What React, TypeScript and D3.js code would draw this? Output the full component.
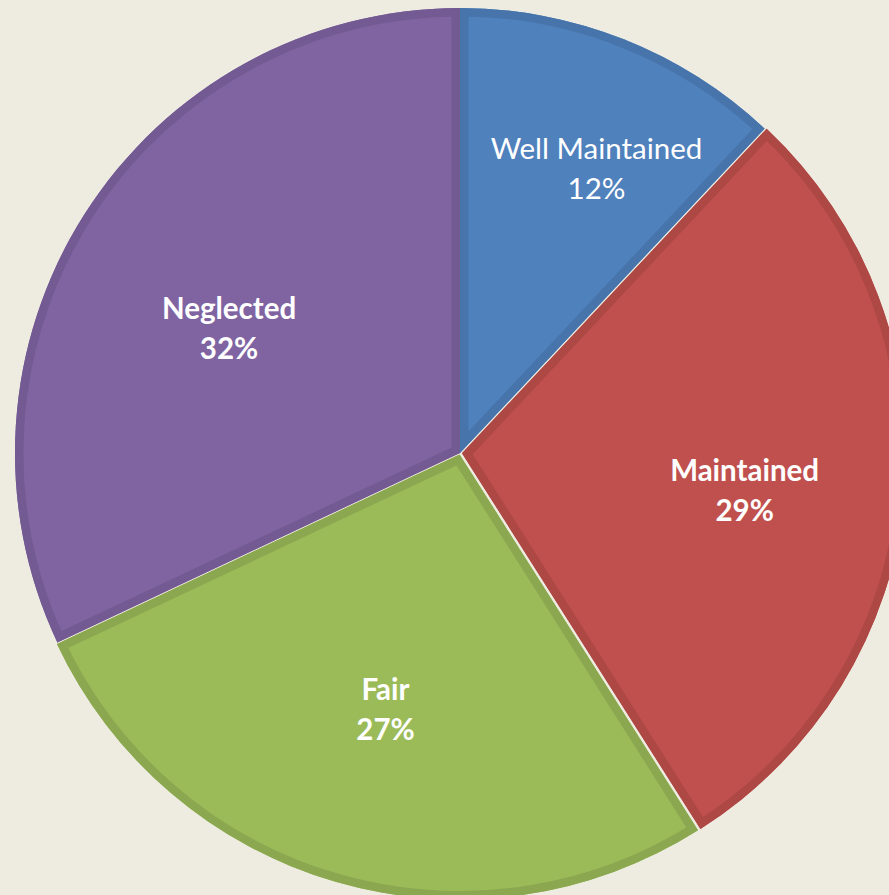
import React from "react";
import * as d3 from "d3";

const categories = ["Well Maintained", "Maintained", "Fair", "Neglected"];
const values = [12, 29, 27, 32];
const colors = ["#4F81BD", "#C0504D", "#9BBB59", "#8064A2"];
const boldLabel = [false, true, true, true];
const labelRadiusFrac = [0.71, 0.645, 0.6, 0.59];
const labelAngleShift = [4, 2, 0, -4];
const explode = [0, 2, 1.5, 0];

const W = 889;
const H = 895;
const cx = 460;
const cy = 453;
const R = 445;

export default function App() {
  const pie = d3.pie<number>().sort(null).value((d) => d);
  const arcs = pie(values);
  const arc = d3.arc<d3.PieArcDatum<number>>().innerRadius(0).outerRadius(R);
  return (
    <svg width={W} height={H} style={{ position: "absolute", left: 0, top: 0, background: "#EEECE1" }}>
      <rect x={0} y={0} width={W} height={H} fill="#EEECE1" />
      <defs>
        {arcs.map((a, i) => (
          <clipPath id={`clip${i}`} key={i}>
            <path d={arc(a) || ""} />
          </clipPath>
        ))}
      </defs>
      {arcs.map((a, i) => {
        const mid = (a.startAngle + a.endAngle) / 2;
        const ox = Math.sin(mid) * explode[i];
        const oy = -Math.cos(mid) * explode[i];
        const d = arc(a) || "";
        const stroke = d3.color(colors[i])!.darker(0.3).formatHex();
        return (
          <g key={i} transform={`translate(${cx + ox},${cy + oy})`}>
            <path d={d} fill={colors[i]} />
            <path d={d} fill="none" stroke={stroke} strokeWidth={17} clipPath={`url(#clip${i})`} />
          </g>
        );
      })}
      {arcs.map((a, i) => {
        const mid = (a.startAngle + a.endAngle) / 2 + (labelAngleShift[i] * Math.PI) / 180;
        const r = labelRadiusFrac[i] * R;
        const x = cx + Math.sin(mid) * r;
        const y = cy - Math.cos(mid) * r;
        return (
          <text
            key={i}
            x={x}
            y={y}
            textAnchor="middle"
            fill="#FFFFFF"
            fontFamily="Lato, 'Open Sans', sans-serif"
            fontSize={29.5}
            fontWeight={boldLabel[i] ? 700 : 400}
          >
            <tspan x={x} dy={-9}>{categories[i]}</tspan>
            <tspan x={x} dy={40}>{`${values[i]}%`}</tspan>
          </text>
        );
      })}
    </svg>
  );
}
